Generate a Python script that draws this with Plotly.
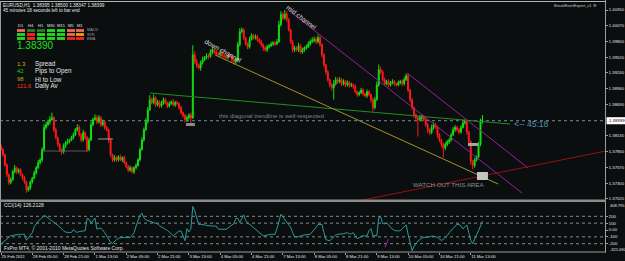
import plotly.graph_objects as go

W, H = 625, 261
BG = "#0a0e0e"
FONT = "Liberation Sans"

# ---------------- data (prices in pips: price = value / 10000) ----------------
first_open_pips = 13795
closes_pips = [
    13789, 13780, 13762, 13745, 13731, 13736, 13750, 13757, 13750, 13753,
    13745, 13739, 13732, 13718, 13722, 13732, 13739, 13748, 13757, 13766,
    13771, 13789, 13828, 13833, 13838, 13842, 13845, 13824, 13810, 13798,
    13789, 13785, 13796, 13801, 13803, 13806, 13810, 13815, 13824, 13828,
    13815, 13806, 13819, 13810, 13789, 13806, 13833, 13842, 13845, 13838,
    13845, 13833, 13838, 13828, 13824, 13806, 13780, 13771, 13775, 13771,
    13776, 13771, 13775, 13766, 13759, 13753, 13757, 13750, 13757, 13761,
    13771, 13789, 13806, 13824, 13838, 13859, 13877, 13872, 13880, 13868,
    13873, 13866, 13870, 13877, 13872, 13866, 13870, 13873, 13868, 13872,
    13870, 13863, 13854, 13849, 13842, 13845, 13850, 13845, 13956, 13944,
    13937, 13933, 13942, 13947, 13951, 13954, 13953, 13960, 13965, 13961,
    13958, 13956, 13960, 13954, 13953, 13951, 13954, 13953, 13947, 13944,
    13947, 13974, 13997, 14000, 13986, 13975, 13970, 13983, 13990, 13986,
    13988, 13983, 13979, 13974, 13968, 13965, 13970, 13972, 13975, 13977,
    13975, 13979, 14009, 14027, 14021, 14028, 14018, 14000, 13979, 13965,
    13968, 13965, 13972, 13961, 13965, 13968, 13970, 13975, 13979, 13981,
    13983, 13979, 13986, 13974, 13956, 13938, 13926, 13912, 13903, 13898,
    13905, 13912, 13909, 13912, 13905, 13909, 13903, 13907, 13902, 13903,
    13900, 13891, 13886, 13889, 13894, 13887, 13884, 13891, 13886, 13877,
    13863, 13877, 13903, 13930, 13926, 13912, 13905, 13909, 13903, 13907,
    13909, 13905, 13903, 13907, 13909, 13905, 13912, 13919, 13894, 13877,
    13863, 13850, 13845, 13842, 13845, 13847, 13842, 13833, 13824, 13819,
    13828, 13833, 13829, 13815, 13806, 13798, 13792, 13798, 13803, 13806,
    13815, 13824, 13828, 13824, 13820, 13828, 13836, 13838, 13820, 13803,
    13768, 13761, 13771, 13776, 13798, 13839.5, 13839.9,
]
upper_wick_pips = [
    4, 3, 2, 3, 2, 4, 3, 5, 2, 3,
    3, 2, 4, 2, 3, 3, 2, 4, 3, 5,
    3, 4, 6, 5, 4, 6, 9, 3, 4, 2,
    3, 2, 4, 3, 5, 2, 3, 4, 3, 6,
    4, 3, 5, 2, 3, 4, 5, 3, 6, 4,
    5, 3, 4, 2, 3, 2, 3, 2, 4, 3,
    3, 4, 2, 3, 2, 3, 4, 2, 3, 4,
    3, 4, 5, 4, 6, 5, 8, 4, 6, 3,
    4, 3, 5, 4, 3, 2, 4, 3, 5, 3,
    3, 2, 3, 2, 3, 4, 3, 4, 17, 6,
    5, 3, 4, 6, 3, 5, 4, 6, 5, 3,
    4, 3, 5, 3, 4, 3, 2, 4, 3, 2,
    3, 5, 6, 4, 3, 2, 3, 5, 4, 3,
    4, 3, 2, 3, 2, 3, 4, 3, 4, 3,
    3, 5, 7, 6, 4, 7, 5, 3, 2, 3,
    4, 3, 5, 3, 4, 3, 4, 5, 4, 6,
    5, 4, 6, 3, 2, 3, 2, 3, 2, 3,
    6, 5, 4, 5, 3, 4, 3, 4, 3, 4,
    3, 4, 2, 3, 4, 3, 2, 4, 3, 2,
    3, 5, 6, 9, 5, 3, 4, 3, 4, 3,
    4, 3, 2, 4, 3, 4, 5, 4, 3, 2,
    3, 2, 3, 4, 5, 4, 3, 2, 3, 2,
    5, 4, 3, 2, 3, 2, 3, 4, 3, 4,
    4, 5, 4, 3, 3, 4, 5, 4, 3, 2,
    2, 3, 4, 3, 5, 4, 10.1,
]
lower_wick_pips = [
    3, 4, 3, 4, 4, 3, 2, 3, 4, 3,
    3, 4, 3, 5, 3, 4, 3, 2, 3, 2,
    3, 4, 3, 4, 3, 5, 2, 4, 3, 4,
    4, 5, 3, 4, 3, 3, 2, 3, 2, 3,
    3, 4, 3, 4, 4, 3, 2, 3, 2, 4,
    3, 4, 3, 4, 3, 5, 4, 4, 3, 4,
    3, 2, 4, 3, 3, 4, 3, 3, 4, 3,
    2, 3, 2, 3, 2, 3, 2, 3, 3, 4,
    3, 4, 3, 2, 3, 4, 3, 2, 3, 4,
    3, 4, 3, 4, 5, 4, 3, 9, 2, 4,
    4, 3, 5, 3, 2, 3, 4, 2, 3, 4,
    3, 4, 3, 2, 3, 4, 3, 2, 4, 5,
    4, 2, 3, 3, 4, 3, 4, 3, 2, 3,
    3, 4, 3, 4, 5, 3, 4, 3, 2, 3,
    3, 2, 2, 3, 4, 3, 4, 3, 4, 5,
    4, 3, 4, 3, 3, 4, 3, 2, 3, 2,
    3, 4, 3, 4, 5, 4, 5, 4, 4, 5,
    21, 3, 4, 3, 4, 3, 4, 3, 4, 3,
    4, 3, 4, 3, 2, 4, 3, 4, 3, 5,
    7, 3, 2, 3, 4, 3, 2, 3, 4, 3,
    3, 4, 3, 2, 3, 4, 3, 2, 4, 5,
    4, 5, 4, 30, 3, 4, 3, 4, 5, 4,
    3, 4, 3, 5, 4, 5, 17, 4, 3, 4,
    3, 2, 4, 3, 4, 3, 2, 3, 5, 6,
    5, 7, 4, 3, 2, 3, 4.8,
]
cci_values = [
    -205, -180, -157, -130, -100, -84, -78, -72, -68, -64,
    -62, -62, -62, -150, -110, -75, -40, 50, 100, 130,
    152, 180, 210, 200, 175, 152, 130, 110, 88, 70,
    40, 10, -10, -30, -38, -38, -36, 8, -25, -34,
    -22, -16, -15, -10, 170, 158, 100, 140, 175, 12,
    25, 25, 0, -40, -86, -130, -180, -195, -160, -140,
    -120, -110, -110, -110, -110, -110, -108, -80, -40, 55,
    150, 215, 245, 180, 148, 138, 129, 122, 115, 106,
    88, 62, 40, 30, 10, -5, -30, -60, -85, -60,
    -30, -15, -15, -100, -157, 20, -30, 20, 343, 280,
    170, 81, 81, 81, 75, 68, 62, 57, 57, 57,
    57, 12, 10, 10, 10, 10, 30, 50, 70, 95,
    170, 170, 110, 160, 220, 140, 98, 84, 60, 30,
    0, -20, -40, -65, -86, -80, -72, -65, -62, -62,
    -62, 20, 150, 230, 190, 155, 120, 80, 40, -40,
    -100, -105, -100, -86, -80, -72, -68, -65, -62, -30,
    0, 40, 81, 81, 81, -40, -140, -150, -157, -130,
    -100, -75, -62, -62, -62, -55, -45, -40, -55, -55,
    -40, -80, -125, -115, -90, -86, -86, -86, -10, 20,
    -80, -86, -86, 180, 190, 95, 90, 102, 80, 35,
    8, -5, -12, -15, -12, 20, 50, 75, -62, -200,
    -300, -240, -195, -160, -140, -118, -110, -110, -110, -100,
    -92, -88, -98, -108, -130, -152, -135, -112, -80, -40,
    0, 25, 55, 81, 81, 60, 15, 45, 75, -40,
    -150, -200, -145, -70, -10, 60, 126.2,
]

time_tick_bars = [0, 16, 32, 48, 64, 80, 96, 112, 128, 144, 160, 176, 192, 208, 224, 240]
time_labels = ["25 Feb 2011", "28 Feb 05:00", "28 Feb 21:00", "1 Mar 13:00", "2 Mar 05:00",
               "2 Mar 21:00", "3 Mar 13:00", "4 Mar 05:00", "4 Mar 21:00", "7 Mar 13:00",
               "8 Mar 05:00", "8 Mar 21:00", "9 Mar 13:00", "10 Mar 05:00", "10 Mar 21:00",
               "11 Mar 13:00"]
price_ticks = [1.40350, 1.40070, 1.39800, 1.39520, 1.39240, 1.38960, 1.38690,
               1.38130, 1.37850, 1.37570, 1.37300, 1.37020]
cci_ticks = [200, 100, 0, -100, -200]
cci_tick_text = ["200", "100", "0.00", "-100", "-200"]
cci_levels = [200, 100, -100, -200]
bid_price = 1.38399

# trendline objects drawn on the chart (bar index, price)
green_tl_x, green_tl_y = [76.1, 260.1], [1.38887, 1.38341]
olive_tl_x, olive_tl_y = [109.4, 254.0], [1.39557, 1.37284]
purple1_x, purple1_y = [146.7, 266.2], [1.40350, 1.37125]
purple2_x, purple2_y = [207.5, 269.3], [1.39240, 1.37566]
red_tl_x, red_tl_y = [170.0, 309.0], [1.36898, 1.37865]
cci_tl_x, cci_tl_y = [196.2, 197.9], [-253, -133]
hlines = [([21.5, 44.5], 1.37865, "#5a5a5a"), ([49.6, 57.2], 1.38077, "#9a9a9a")]
boxes = [(94.5, 99.1, 1.38306, 1.38359, "#8a8a8a"),
         (238.6, 243.7, 1.37954, 1.38006, "#a6a6a6"),
         (243.2, 248.8, 1.37354, 1.37495, "#c4c4c4")]

assert len(closes_pips) == len(upper_wick_pips) == len(lower_wick_pips) == len(cci_values), \
    (len(closes_pips), len(upper_wick_pips), len(lower_wick_pips), len(cci_values))

n = len(closes_pips)
bars = list(range(n))
close = [c / 10000 for c in closes_pips]
opn = [first_open_pips / 10000] + close[:-1]
high = [max(o, c) + u / 10000 for o, c, u in zip(opn, close, upper_wick_pips)]
low = [min(o, c) - l / 10000 for o, c, l in zip(opn, close, lower_wick_pips)]

UP, DN = "#12e012", "#ff1a1a"


def px(x):
    return x / W


def py(y):
    return 1 - y / H


fig = go.Figure()
fig.add_trace(go.Candlestick(
    x=bars, open=opn, high=high, low=low, close=close,
    increasing=dict(line=dict(color=UP, width=1), fillcolor=UP),
    decreasing=dict(line=dict(color=DN, width=1), fillcolor=DN),
    whiskerwidth=0, hoverinfo="skip", xaxis="x", yaxis="y"))

for xs, ys, col in [(green_tl_x, green_tl_y, "#238c23"), (olive_tl_x, olive_tl_y, "#a8902c"),
                    (purple1_x, purple1_y, "#9b1f9b"), (purple2_x, purple2_y, "#9b1f9b"),
                    (red_tl_x, red_tl_y, "#9a1010")]:
    fig.add_trace(go.Scatter(x=xs, y=ys, mode="lines", line=dict(color=col, width=1),
                             hoverinfo="skip", xaxis="x", yaxis="y"))
for xs, yv, col in hlines:
    fig.add_trace(go.Scatter(x=xs, y=[yv, yv], mode="lines", line=dict(color=col, width=1),
                             hoverinfo="skip", xaxis="x", yaxis="y"))

fig.add_trace(go.Scatter(x=bars, y=cci_values, mode="lines", line=dict(color="#2b9c9c", width=1),
                         hoverinfo="skip", xaxis="x", yaxis="y2"))
fig.add_trace(go.Scatter(x=cci_tl_x, y=cci_tl_y, mode="lines", line=dict(color="#b020b0", width=1),
                         hoverinfo="skip", xaxis="x", yaxis="y2"))

shapes = []
for x0, x1, y0, y1, col in boxes:
    shapes.append(dict(type="rect", xref="x", yref="y", x0=x0, x1=x1, y0=y0, y1=y1,
                       fillcolor=col, line=dict(width=0), layer="above"))
for lv in cci_levels:
    shapes.append(dict(type="line", xref="paper", yref="y2", x0=0, x1=px(605), y0=lv, y1=lv,
                       line=dict(color="#8a8a8a", width=1, dash="dot"), layer="below"))
# bid line
shapes.append(dict(type="line", xref="paper", yref="y", x0=0, x1=px(605), y0=bid_price, y1=bid_price,
                   line=dict(color="#7d8b99", width=1, dash="dot"), layer="below"))
# frame
FR = "#9c9c9c"
shapes += [
    dict(type="line", xref="paper", yref="paper", x0=0, x1=px(606), y0=py(1.5), y1=py(1.5), line=dict(color="#b4b4b4", width=1)),
    dict(type="line", xref="paper", yref="paper", x0=px(0.5), x1=px(0.5), y0=py(252), y1=py(1.5), line=dict(color=FR, width=1)),
    dict(type="line", xref="paper", yref="paper", x0=px(605.5), x1=px(605.5), y0=py(252.5), y1=py(0), line=dict(color=FR, width=1)),
    dict(type="rect", xref="paper", yref="paper", x0=0, x1=px(606), y0=py(202), y1=py(199.5), fillcolor="#8c8c8c", line=dict(width=0)),
    dict(type="line", xref="paper", yref="paper", x0=0, x1=px(606), y0=py(252), y1=py(252), line=dict(color=FR, width=1)),
    dict(type="rect", xref="paper", yref="y", x0=px(606.5), x1=1, y0=bid_price - 0.00062, y1=bid_price + 0.00062,
         fillcolor="#ffffff", line=dict(width=0)),
]

# indicator grid in top-left
grid_cols_x = [17, 27, 37, 47, 57, 67, 76]
grid_rows_y = [30.5, 34.5, 38.5]
grid_colors = [
    ["#f06a5a", "#2e7a2e", "#2e7a2e", "#22dd22", "#22dd22", "#f06a5a", "#f06a5a"],
    ["#22dd22", "#ff2020", "#22dd22", "#22dd22", "#22dd22", "#f06a5a", "#ff9900"],
    ["#22dd22", "#ff2020", "#22dd22", "#22dd22", "#22dd22", "#ff2020", "#ff2020"],
]
for r, yv in enumerate(grid_rows_y):
    for c, xv in enumerate(grid_cols_x):
        shapes.append(dict(type="rect", xref="paper", yref="paper", x0=px(xv), x1=px(xv + 8),
                           y0=py(yv + 1.4), y1=py(yv - 1.4), fillcolor=grid_colors[r][c], line=dict(width=0)))


def ann(text, x, y, size, color, xanchor="left", angle=0, yref="paper", yval=None):
    return dict(text=text, x=px(x), y=py(y) if yval is None else yval, xref="paper", yref=yref,
                showarrow=False, xanchor=xanchor, yanchor="middle", textangle=angle,
                font=dict(size=size, color=color, family=FONT), borderpad=0)


WHITE = "#e6e6e6"
annotations = [
    ann("EURUSD,H1  1.38395 1.38500 1.38347 1.38399", 2, 5, 4.7, WHITE),
    ann("45 minutes 18 seconds left to bar end", 2, 10.5, 4.6, WHITE),
    ann("1.38390", 16, 45, 10, "#1ee01e"),
    ann("1.3", 16, 64, 6.0, "#e0a010"), ann("Spread", 34, 64, 6.3, WHITE),
    ann("42", 16, 71.3, 6.0, "#1ed01e"), ann("Pips to Open", 34, 71.3, 6.3, WHITE),
    ann("98", 16, 79, 6.0, "#c8a010"), ann("Hi to Low", 34, 79, 6.3, WHITE),
    ann("121.6", 15.5, 86.3, 5.6, "#ff3a10"), ann("Daily Av", 34, 86.3, 6.3, WHITE),
    ann("MACD", 86, 30.5, 3.8, "#a0a0a0"), ann("STR", 86, 34.5, 3.8, "#a0a0a0"),
    ann("EMA", 86, 38.5, 3.8, "#a0a0a0"),
    ann("BreakEvenExpert_v1 \u2699", 598, 5, 4, "#c8c8c8", xanchor="right"),
    ann("down channel", 223, 50, 6.6, "#dcdcdc", xanchor="center", angle=29),
    ann("mid channel", 302, 17, 6.6, "#dcdcdc", xanchor="center", angle=37),
    ann("this diagonal trendline is well-respected", 271, 116, 6, "#828282", xanchor="center"),
    ann("<-- 45:18", 531, 124, 8.5, "#4f94b0", xanchor="center"),
    ann("WATCH OUT THIS AREA", 448, 184, 6.2, "#8e8e8e", xanchor="center"),
    ann("CCI(14) 126.2128", 3, 205, 5, WHITE),
    ann("FxPro MT4, \u00a9 2001-2010 MetaQuotes Software Corp.", 3, 248, 5, WHITE),
    ann("408.795", 609, 205, 4, WHITE),
    ann("-321.090", 609, 249.5, 4, WHITE),
    ann("1.38399", 607.5, 0, 4.3, "#000000", yref="y", yval=bid_price),
]
for lbl, xv in zip(["D1", "H4", "H1", "M30", "M15", "M5", "M1"], grid_cols_x):
    annotations.append(ann(lbl, xv + 4, 25.5, 4, WHITE, xanchor="center"))

fig.update_layout(
    width=W, height=H, margin=dict(l=0, r=0, t=0, b=0),
    paper_bgcolor=BG, plot_bgcolor=BG, showlegend=False,
    font=dict(family=FONT, color=WHITE),
    xaxis=dict(domain=[0, px(605)], range=[-0.51, 308.6], anchor="y2",
               showgrid=False, zeroline=False, showline=False,
               tickmode="array", tickvals=time_tick_bars, ticktext=time_labels,
               ticks="outside", ticklen=2, tickcolor="#9c9c9c", tickangle=0,
               ticklabelposition="outside right",
               tickfont=dict(size=4.2, color=WHITE, family=FONT),
               rangeslider=dict(visible=False), fixedrange=True),
    yaxis=dict(domain=[py(200), py(2)], range=[1.37002, 1.40491], anchor="x", side="right",
               showgrid=False, zeroline=False, showline=False,
               tickmode="array", tickvals=price_ticks, ticktext=[f"{v:.5f}" for v in price_ticks],
               ticks="outside", ticklen=2, tickcolor="#9c9c9c",
               tickfont=dict(size=4.2, color=WHITE, family=FONT)),
    yaxis2=dict(domain=[py(252), py(202)], range=[-321.09, 408.795], anchor="x", side="right",
                showgrid=False, zeroline=False, showline=False,
                tickmode="array", tickvals=cci_ticks, ticktext=cci_tick_text,
                ticks="outside", ticklen=2, tickcolor="#9c9c9c",
                tickfont=dict(size=4.2, color=WHITE, family=FONT)),
    shapes=shapes, annotations=annotations,
)

fig.write_html("out.html")
